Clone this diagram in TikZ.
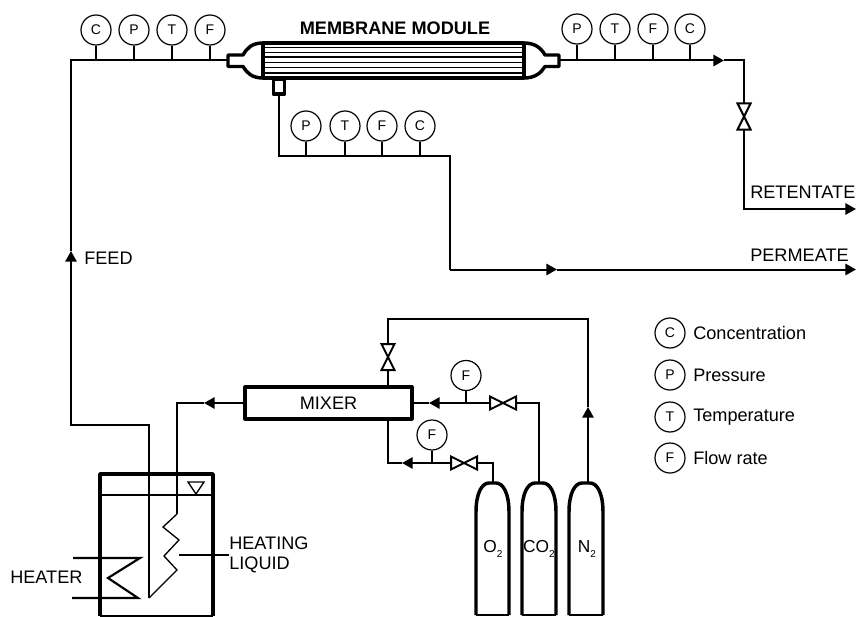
\documentclass[tikz,border=0pt]{standalone}
\usepackage{fontspec}
\setmainfont{Liberation Sans}
\usetikzlibrary{arrows.meta,calc}
\newcommand{\lowtwo}{\raisebox{-0.25em}{\fontsize{7.5pt}{8pt}\selectfont 2}}
\tikzset{
  x=0.75pt,y=-0.75pt,
  flow/.style={line width=1.5pt,line cap=butt,line join=miter},
  tipflow/.style={flow,-{Triangle[length=8pt,width=8.5pt]}},
  heavy/.style={line width=2.6pt,line join=round},
  inst/.style={circle,draw,line width=0.9pt,minimum size=22.5pt,inner sep=0pt,font=\fontsize{10.5pt}{12pt}\selectfont,fill=white},
  stem/.style={line width=0.9pt},
  lab/.style={font=\fontsize{13.6pt}{15pt}\selectfont,anchor=west,inner sep=0pt},
  valveshape/.style={draw,fill=white,line width=1.5pt,line join=miter},
  valveh/.pic={\path[valveshape] (-13,-6.5) -- (13,6.5) -- (13,-6.5) -- (-13,6.5) -- cycle;},
  valvev/.pic={\path[valveshape] (-6.5,-13) -- (6.5,13) -- (-6.5,13) -- (6.5,-13) -- cycle;},
}
\begin{document}
\begin{tikzpicture}
\useasboundingbox (0,0) rectangle (857,617);

% --- key points
\coordinate (inL) at (228,60.5);
\coordinate (feedcorner) at (71,60.5);
\coordinate (feedarrow) at (71,251);
\coordinate (feedlow) at (71,425);
\coordinate (feedmid) at (149,425);
\coordinate (feedend) at (149,598);

% --- membrane module
\node[draw,heavy,minimum width=195.75pt,minimum height=26.25pt,inner sep=0pt] (module) at (393.5,60.5) {};
\foreach \yy/\ww in {47.7/0.8pt,52.7/0.8pt,57.3/1.4pt,62.3/0.8pt,67.7/1.2pt,73/0.8pt}
  \draw[line width=\ww] (263,\yy) -- (524,\yy);
\draw[heavy] (263,43) .. controls (252,43) and (247,48) .. (243,55) -- (228,55) -- (228,66.5) -- (243,66.5) .. controls (247,73) and (252,78) .. (263,78);
\draw[heavy] (524,43) .. controls (535,43) and (541,48) .. (545,55) -- (559,55) -- (559,66.5) -- (545,66.5) .. controls (541,73) and (535,78) .. (524,78);
\node[draw,heavy,fill=white,minimum width=8.5pt,minimum height=11.5pt,inner sep=0pt] (permnoz) at (279,86.5) {};
\node[font=\bfseries\fontsize{13.6pt}{15pt}\selectfont,inner sep=0pt] (modlabel) at (395,28) {MEMBRANE MODULE};

% --- feed line
\draw[flow] (inL) -- (feedcorner) -- (feedarrow);
\draw[flow,{Triangle[length=8pt,width=8.5pt]}-] (feedarrow) -- (feedlow) -- (feedmid) -- (feedend);
\node[lab] (feedlabel) at (84,258) {FEED};

% --- feed instruments
\foreach \nm/\tx/\xx in {ca/C/96,pa/P/134,ta/T/172,fa/F/210}{
  \node[inst] (\nm) at (\xx,30) {\tx};
  \draw[stem] (\nm.south) -- (\xx,60.5);
}

% --- retentate
\coordinate (outR) at (559,60.5);
\coordinate (retarrow) at (724,60.5);
\coordinate (retcorner) at (744,60.5);
\coordinate (retvalve) at (744,116.5);
\coordinate (retlow) at (744,209);
\coordinate (retend) at (856,209);
\draw[tipflow] (outR) -- (retarrow);
\draw[flow] (retarrow) -- (retcorner) -- (retvalve);
\draw[tipflow] (retvalve) -- (retlow) -- (retend);
\pic at (retvalve) {valvev};
\node[lab] (retlabel) at (750,192) {RETENTATE};
\foreach \nm/\tx/\xx in {pb/P/577,tb/T/615,fb/F/653,cb/C/690}{
  \node[inst] (\nm) at (\xx,29) {\tx};
  \draw[stem] (\nm.south) -- (\xx,60.5);
}

% --- permeate
\coordinate (permcorner) at (279,155.5);
\coordinate (permmid) at (450,155.5);
\coordinate (permlow) at (450,269.5);
\coordinate (permarrow) at (557,269.5);
\coordinate (permend) at (856,269.5);
\draw[flow] (permnoz.south) -- (permcorner) -- (permmid) -- (permlow);
\draw[tipflow] (permlow) -- (permarrow);
\draw[tipflow] (permarrow) -- (permend);
\node[lab] (permlabel) at (750,255) {PERMEATE};
\foreach \nm/\tx/\xx in {pc/P/306,tc/T/345,fc/F/382,cc/C/420}{
  \node[inst] (\nm) at (\xx,126) {\tx};
  \draw[stem] (\nm.south) -- (\xx,155.5);
}

% --- mixer
\node[draw,heavy,minimum width=125pt,minimum height=24pt,inner sep=0pt,font=\fontsize{13.6pt}{15pt}\selectfont] (mixer) at (328.5,403) {MIXER};

% --- tank
\draw[heavy] (100,616) -- (100,474) -- (213,474) -- (213,616);
\draw[line width=1pt] (100,616) -- (213,616);
\draw[line width=1.1pt] (100,495) -- (213,495);
\draw[line width=1pt] (188,482) -- (204,482) -- (196,494) -- cycle;

% --- mixer to tank
\coordinate (mixarrow) at (204,403);
\coordinate (coiltop) at (177,403);
\draw[tipflow] (mixer.west) -- (mixarrow);
\draw[flow] (mixarrow) -- (coiltop) -- (177,514);
\draw[line width=1pt] (177,514) -- (163,527) -- (179,540) -- (164,556) -- (177,570) -- (feedend);

% --- heater
\draw[line width=1.6pt,line join=miter] (73,558) -- (140,558) -- (108,578) -- (138,598) -- (72,598);
\node[lab] (heaterlabel) at (10,577) {HEATER};

% --- heating liquid
\node[lab,align=left,font=\fontsize{13.6pt}{15pt}\selectfont] (hllabel) at (229,555) {HEATING\\LIQUID};
\draw[line width=1pt] (179,555) -- (hllabel.west);

% --- cylinders
\newcommand{\cylinder}[3]{% left, right, centre
  \draw[heavy] (#1,615) -- (#1,512) .. controls (#1,493) and (#1+6,483) .. (#1+13,483) -- (#2-13,483) .. controls (#2-6,483) and (#2,493) .. (#2,512) -- (#2,615);
  \draw[line width=1pt] (#1,615) -- (#2,615);
}
\cylinder{476}{509}{493}
\cylinder{522}{556}{539}
\cylinder{569}{603}{588}
\node[font=\fontsize{13pt}{15pt}\selectfont,inner sep=0pt] (o2) at (493,549) {O\lowtwo};
\node[font=\fontsize{13pt}{15pt}\selectfont,inner sep=0pt] (co2) at (539,549) {CO\lowtwo};
\node[font=\fontsize{13pt}{15pt}\selectfont,inner sep=0pt] (n2) at (587,549) {N\lowtwo};
\coordinate (o2top) at (493,483);
\coordinate (co2top) at (539,483);
\coordinate (n2top) at (588,483);

% --- N2 line
\coordinate (n2arrow) at (588,407);
\coordinate (n2corner) at (588,319);
\coordinate (n2left) at (388,319);
\coordinate (n2valve) at (388,357);
\draw[tipflow] (n2top) -- (n2arrow);
\draw[flow] (n2arrow) -- (n2corner) -- (n2left) -- (n2valve);
\draw[flow] (n2valve) -- (n2valve |- mixer.north);
\pic at (n2valve) {valvev};

% --- CO2 line
\coordinate (co2corner) at (539,403);
\coordinate (co2valve) at (503,403);
\coordinate (co2arrow) at (429,403);
\draw[flow] (co2top) -- (co2corner) -- (co2valve);
\draw[tipflow] (co2valve) -- (co2arrow);
\draw[flow] (co2arrow) -- (mixer.east);
\pic at (co2valve) {valveh};
\node[inst] (fd) at (466,375.5) {F};
\draw[stem] (fd.south) -- (466,403);

% --- O2 line
\coordinate (o2corner) at (493,463);
\coordinate (o2valve) at (464,463);
\coordinate (o2arrow) at (402,463);
\coordinate (o2left) at (388,463);
\draw[flow] (o2top) -- (o2corner) -- (o2valve);
\draw[tipflow] (o2valve) -- (o2arrow);
\draw[flow] (o2arrow) -- (o2left) -- (o2left |- mixer.south);
\pic at (o2valve) {valveh};
\node[inst] (fe) at (432,435) {F};
\draw[stem] (fe.south) -- (432,463);

% --- legend
\foreach \nm/\tx/\yy/\desc in {lc/C/333/Concentration,lp/P/375/Pressure,lt/T/417/Temperature,lf/F/458/Flow rate}{
  \node[inst] (\nm) at (670,\yy) {\tx};
  \node[lab] (\nm text) at (693,\yy) {\desc};
}
\end{tikzpicture}
\end{document}
